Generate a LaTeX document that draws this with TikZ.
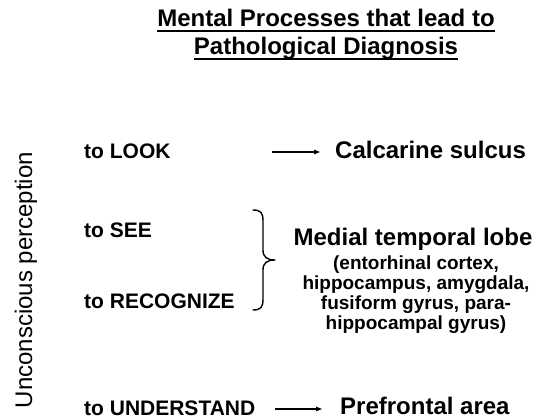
\documentclass[tikz,border=0pt]{standalone}
\usepackage{fontspec}
\setmainfont{Liberation Sans}
\usetikzlibrary{arrows.meta}
\tikzset{
  ttl/.style={font=\bfseries\fontsize{24}{28}\selectfont, inner sep=0pt, anchor=base},
  act/.style={font=\bfseries\fontsize{21}{25}\selectfont, inner sep=0pt, anchor=base west},
  area/.style={font=\bfseries\fontsize{24}{28}\selectfont, inner sep=0pt},
  sub/.style={font=\bfseries\fontsize{19}{20}\selectfont, inner sep=0pt, align=center, anchor=base},
  side/.style={font=\fontsize{24}{28}\selectfont, inner sep=0pt, rotate=90, anchor=base},
  uline/.style={draw=black, line width=2pt},
  link/.style={draw=black, line width=1.2pt, -{Triangle[length=6pt,width=4.5pt]}},
  brc/.style={draw=black, line width=1.4pt, line cap=round, line join=round},
}

\begin{document}
\begin{tikzpicture}[x=1pt,y=-1pt]
  \useasboundingbox (0,0) rectangle (539,420);

  % heading, underlined line by line
  \node[ttl] (ttl1) at (326,27) {Mental Processes that lead to};
  \node[ttl] (ttl2) at (326,55) {Pathological Diagnosis};
  \draw[uline] ([yshift=-4pt]ttl1.base west) -- ([yshift=-4pt]ttl1.base east);
  \draw[uline] ([yshift=-4pt]ttl2.base west) -- ([yshift=-4pt]ttl2.base east);

  \node[side] (uncon) at (32,280) {Unconscious perception};

  % the four steps
  \node[act] (look)  at (84,158) {to LOOK};
  \node[act] (see)   at (84,237) {to SEE};
  \node[act] (recog) at (84,308) {to RECOGNIZE};
  \node[act] (under) at (84,415) {to UNDERSTAND};

  % brain areas (sub list sits on its last baseline)
  \node[area, anchor=base west] (calc) at (335,158) {Calcarine sulcus};
  \node[area, anchor=base] (mtl) at (413,245) {Medial temporal lobe};
  \node[sub] (mtlsub) at (416,329) {(entorhinal cortex,\\hippocampus, amygdala,\\fusiform gyrus, para-\\hippocampal gyrus)};
  \node[area, anchor=base west] (pref) at (340,414) {Prefrontal area};

  \coordinate (lookfrom) at (272,152);
  \coordinate (underfrom) at (275,409);
  \draw[link, shorten >=15pt] (lookfrom) -- (lookfrom -| calc.west);
  \draw[link, shorten >=18pt] (underfrom) -- (underfrom -| pref.west);

  % brace joining SEE and RECOGNIZE
  \draw[brc] (253,210) .. controls (261,210) and (263,213) .. (263,221)
    -- (263,250) .. controls (263,257) and (267,260) .. (275,260)
    .. controls (267,260) and (263,263) .. (263,270)
    -- (263,299) .. controls (263,307) and (261,310) .. (253,310);
\end{tikzpicture}
\end{document}
